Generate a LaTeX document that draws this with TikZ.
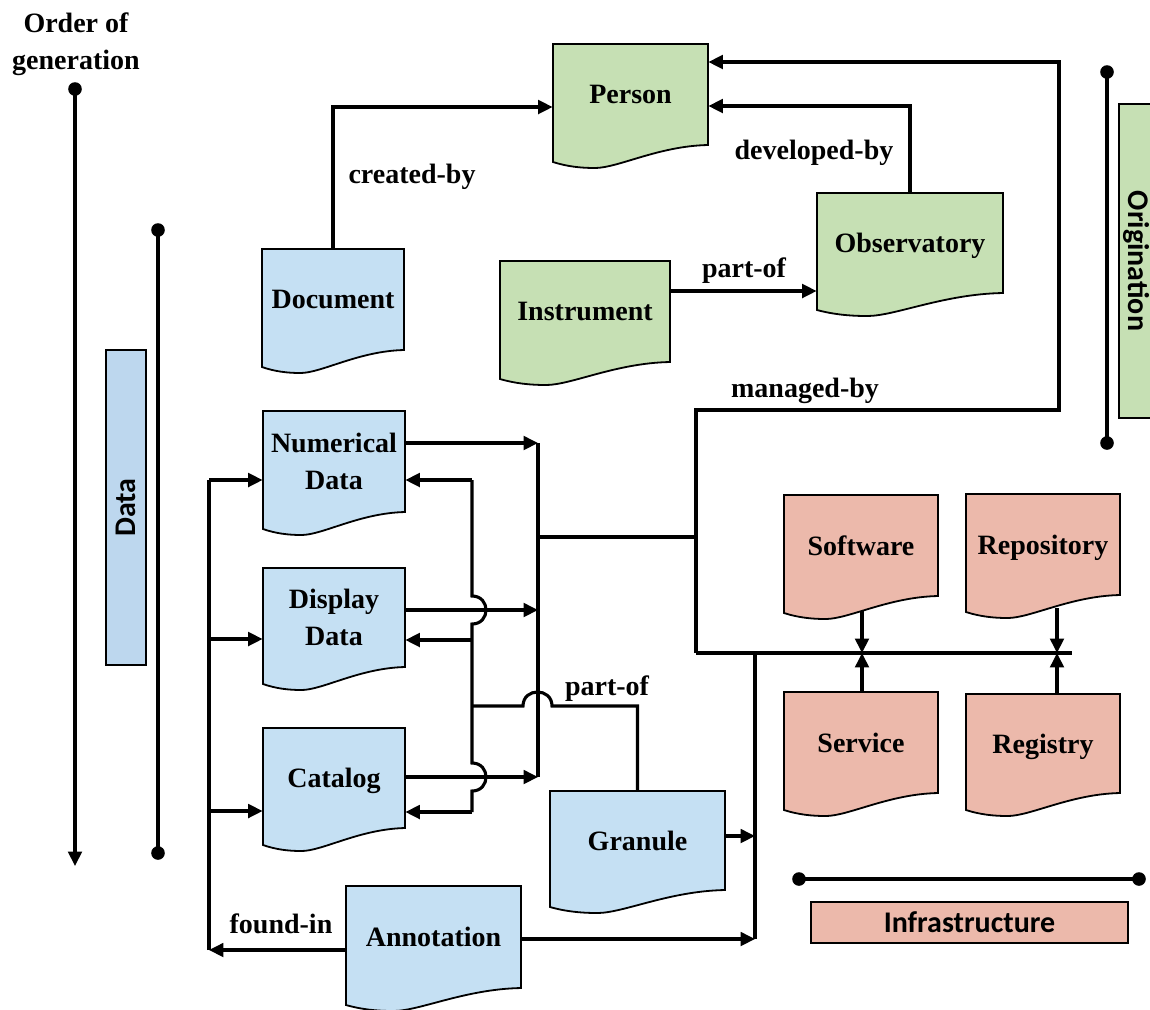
\documentclass[tikz,border=0pt]{standalone}
\usepackage{fontspec}
\setmainfont{Liberation Serif}
\newfontfamily\labelsans{Carlito}
\usetikzlibrary{arrows.meta,calc}

\definecolor{docblue}{RGB}{197,224,243}
\definecolor{datablue}{RGB}{189,215,238}
\definecolor{docgreen}{RGB}{198,224,180}
\definecolor{docsalmon}{RGB}{236,185,171}

\tikzset{
  conn/.style={line width=1.55pt},
  arr/.style={conn, -{Triangle[length=7.2pt,width=6.8pt]}},
  docline/.style={line width=0.9pt, draw=black},
  doctext/.style={font=\fontsize{14}{18.5}\selectfont\bfseries, align=center, inner sep=0pt, text depth=0pt},
  lbl/.style={font=\fontsize{14}{18.5}\selectfont\bfseries, inner sep=0pt, align=center},
  sidebox/.style={draw, line width=0.9pt, inner sep=0pt, font=\labelsans\fontsize{15}{18}\selectfont\bfseries},
  enddot/.style={circle, fill=black, inner sep=0pt, minimum size=6.8pt},
}

\newcommand\mydoc[7]{%
  \pgfmathsetmacro\mdW{#4-#2}%
  \pgfmathsetmacro\mdWpt{(#4-#2)*0.5}%
  \pgfmathsetmacro\mdHpt{(#5-#3)*0.5}%
  \pgfmathsetmacro\mdx{(#2+#4)/2}%
  \pgfmathsetmacro\mdy{(#3+#5)/2}%
  \draw[docline, fill=#6] (#2,#3) -- (#4,#3) -- (#4,#5)
     .. controls ({#2+0.68*\mdW},{#5+1}) and ({#2+0.42*\mdW},{#5+23}) .. ({#2+0.27*\mdW},{#5+23})
     .. controls ({#2+0.18*\mdW},{#5+23}) and ({#2+0.09*\mdW},{#5+21.5}) .. (#2,{#5+17}) -- cycle;
  \node[doctext, minimum width=\mdWpt pt, minimum height=\mdHpt pt] (#1) at (\mdx,\mdy) {#7};
}

\begin{document}
\begin{tikzpicture}[x=0.5pt, y=-0.5pt]
\useasboundingbox (0,0) rectangle (1150,1009);

% ---- document shapes ----
\mydoc{person}{553}{44}{708}{145}{docgreen}{Person}
\mydoc{observatory}{817}{193}{1003}{293}{docgreen}{Observatory}
\mydoc{instrument}{500}{261}{670}{362}{docgreen}{Instrument}
\mydoc{document}{262}{249}{404}{350}{docblue}{Document}
\mydoc{numerical}{263}{411}{405}{512}{docblue}{Numerical\\Data}
\mydoc{display}{263}{568}{405}{667}{docblue}{Display\\Data}
\mydoc{catalog}{263}{728}{405}{828}{docblue}{Catalog}
\mydoc{granule}{550}{791}{725}{890}{docblue}{Granule}
\mydoc{annotation}{346}{886}{521}{988}{docblue}{Annotation}
\mydoc{software}{784}{495}{938}{596}{docsalmon}{Software}
\mydoc{repository}{966}{494}{1120}{595}{docsalmon}{Repository}
\mydoc{service}{784}{692}{938}{793}{docsalmon}{Service}
\mydoc{registry}{966}{694}{1120}{793}{docsalmon}{Registry}

% ---- side scales ----
\node[lbl] (ordertitle) at (76,44) {Order of\\generation};
\node[enddot] (ordertop) at (75,89) {};
\coordinate (orderbot) at (75,866);
\draw[arr] (ordertop.center) -- (orderbot);

\node[enddot] (datatop) at (158,230) {};
\node[enddot] (databot) at (158,853) {};
\draw[conn] (datatop.center) -- (databot.center);
\node[sidebox, fill=datablue, rotate=90, minimum width=157.5pt, minimum height=20pt] (databox) at (126,507.5) {Data};

\node[enddot] (origtop) at (1107,72) {};
\node[enddot] (origbot) at (1107,443) {};
\draw[conn] (origtop.center) -- (origbot.center);
\node[sidebox, fill=docgreen, rotate=-90, minimum width=157pt, minimum height=17pt] (origbox) at (1136,261) {Origination};

\node[enddot] (infl) at (799,879) {};
\node[enddot] (infr) at (1139,879) {};
\draw[conn] (infl.center) -- (infr.center);
\node[sidebox, fill=docsalmon, minimum width=158.5pt, minimum height=20.5pt] (infbox) at (969.5,922.5) {Infrastructure};

% ---- origination links ----
\draw[arr] (document.north) |- ($(person.west)+(0,12.5)$);
\node[lbl] (lcreated) at (412,177) {created-by};
\draw[arr] (observatory.north) |- ($(person.east)+(0,11.5)$);
\node[lbl] (ldeveloped) at (814,153) {developed-by};
\coordinate (ip) at ($(instrument.east)+(0,-20.5)$);
\draw[arr] (ip) -- (ip -| observatory.west);
\node[lbl] (lpartof1) at (744,271) {part-of};

% ---- managed-by network ----
\coordinate (mTop) at (696,410);
\coordinate (mRight) at (1059,410);
\coordinate (mBot) at (696,653);
\coordinate (mMid) at (696,537);
\coordinate (ibusEnd) at (1072,653);
\draw[arr] (mBot) -- (mTop) -- (mRight) |- ($(person.east)+(0,-32.5)$);
\node[lbl] (lmanaged) at (805,391) {managed-by};
\draw[conn] (mBot) -- (ibusEnd);

% ---- data out bus ----
\coordinate (dbusTop) at (538,443);
\coordinate (dbusBot) at (538,777);
\coordinate (dbusMid) at (538,537);
\draw[conn] (dbusTop) -- (dbusBot);
\draw[conn] (dbusMid) -- (mMid);
\coordinate (nOut) at ($(numerical.east)+(0,-18.5)$);
\coordinate (dOut) at ($(display.east)+(0,-7.5)$);
\coordinate (cOut) at ($(catalog.east)+(0,-1)$);
\draw[arr] (nOut) -- (nOut -| dbusTop);
\draw[arr] (dOut) -- (dOut -| dbusTop);
\draw[arr] (cOut) -- (cOut -| dbusTop);

% ---- return bus (with hops) ----
\coordinate (rTop) at (472,480);
\coordinate (rDisp) at (472,640);
\coordinate (rBot) at (472,812);
\coordinate (pJ) at (472,706);
\draw[conn] (rTop) -- (472,596) .. controls (490.7,596) and (490.7,624) .. (472,624)
  -- (472,763) .. controls (490.7,763) and (490.7,791) .. (472,791) -- (rBot);
\draw[arr] (rTop) -- (rTop -| numerical.east);
\draw[arr] (rDisp) -- (rDisp -| display.east);
\draw[arr] (rBot) -- (rBot -| catalog.east);
\draw[conn] (granule.north) |- (552,706) .. controls (552,687.3) and (523,687.3) .. (523,706) -- (pJ);
\node[lbl] (lpartof2) at (607,689) {part-of};

% ---- right vertical bus ----
\coordinate (vTop) at (755,653);
\coordinate (vBot) at (755,939);
\draw[conn] (vTop) -- (vBot);
\coordinate (gOut) at ($(granule.east)+(0,-4.5)$);
\coordinate (aOut) at ($(annotation.east)+(0,2)$);
\draw[arr] (gOut) -- (gOut -| vTop);
\draw[arr] (aOut) -- (aOut -| vTop);

% ---- found-in bus ----
\coordinate (lTop) at (209,480);
\coordinate (lDisp) at (209,639);
\coordinate (lCat) at (209,811);
\coordinate (lBot) at (209,950);
\draw[arr] ($(annotation.west)+(0,13)$) -- (lBot);
\node[lbl] (lfound) at (281,924) {found-in};
\draw[conn] (lBot) -- (lTop);
\draw[arr] (lTop) -- (lTop -| numerical.west);
\draw[arr] (lDisp) -- (lDisp -| display.west);
\draw[arr] (lCat) -- (lCat -| catalog.west);

% ---- infrastructure links ----
\coordinate (ibusA) at (862,653);
\coordinate (ibusB) at (1057,653);
\draw[arr] ($(software.south)+(1,15)$) -- (ibusA);
\draw[arr] ($(service.north)+(1,0)$) -- (ibusA);
\draw[arr] ($(repository.south)+(14,13)$) -- (ibusB);
\draw[arr] ($(registry.north)+(14,0)$) -- (ibusB);
\end{tikzpicture}
\end{document}
